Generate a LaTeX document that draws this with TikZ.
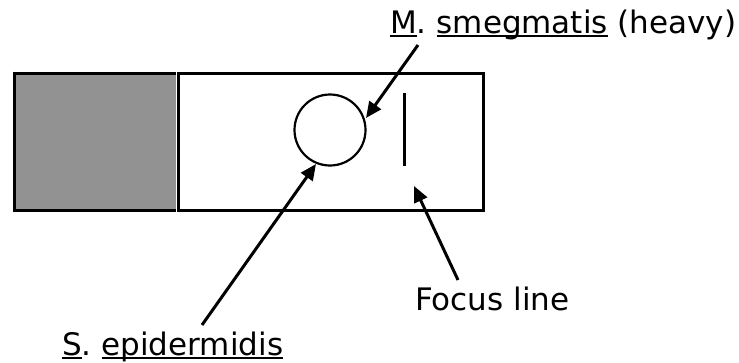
\documentclass[tikz,border=0pt]{standalone}
\usepackage{fontspec}
\setmainfont{DejaVu Sans}
\usetikzlibrary{arrows.meta}
\definecolor{slidegray}{RGB}{146,146,146}
\newlength\ulwidth
\newcommand\ulx[1]{\settowidth\ulwidth{#1}\rlap{\rule[-3.5pt]{\ulwidth}{1.4pt}}#1}
\tikzset{
  lbl/.style={inner sep=0pt, font=\fontsize{31}{36}\selectfont},
  pointer/.style={line width=3pt, -{Triangle[length=16pt,width=14pt]}},
  frame/.style={draw=black, line width=3pt}
}
\begin{document}
\begin{tikzpicture}[x=1pt,y=-1pt]
\useasboundingbox (0,0) rectangle (739,362);
\fill[slidegray] (14,73) rectangle (176,210);
\draw[frame] (14,73) -- (176,73);
\draw[frame] (14,210) -- (176,210);
\draw[frame] (14,71.5) -- (14,211.5);
\draw[frame] (178,73) rectangle (483,210);
\node[circle, draw, line width=2.2pt, minimum size=71pt, inner sep=0pt] (spot) at (330,130) {};
\draw[line width=3pt] (404,93) -- (404,166);
\node[lbl, anchor=base west] (msm) at (390,33) {\ulx{M}. \ulx{smegmatis} (heavy)};
\node[lbl, anchor=base west] (foc) at (415,310) {Focus line};
\node[lbl, anchor=base west] (sep) at (62,355) {\ulx{S}. \ulx{epidermidis}};
\coordinate (a1) at (418,45);
\coordinate (t1) at (366,118);
\coordinate (a2) at (202,325);
\coordinate (t2) at (316,164);
\coordinate (a3) at (458,280);
\coordinate (t3) at (414,186);
\draw[pointer] (a1) -- (t1);
\draw[pointer] (a2) -- (t2);
\draw[pointer] (a3) -- (t3);
\end{tikzpicture}
\end{document}
